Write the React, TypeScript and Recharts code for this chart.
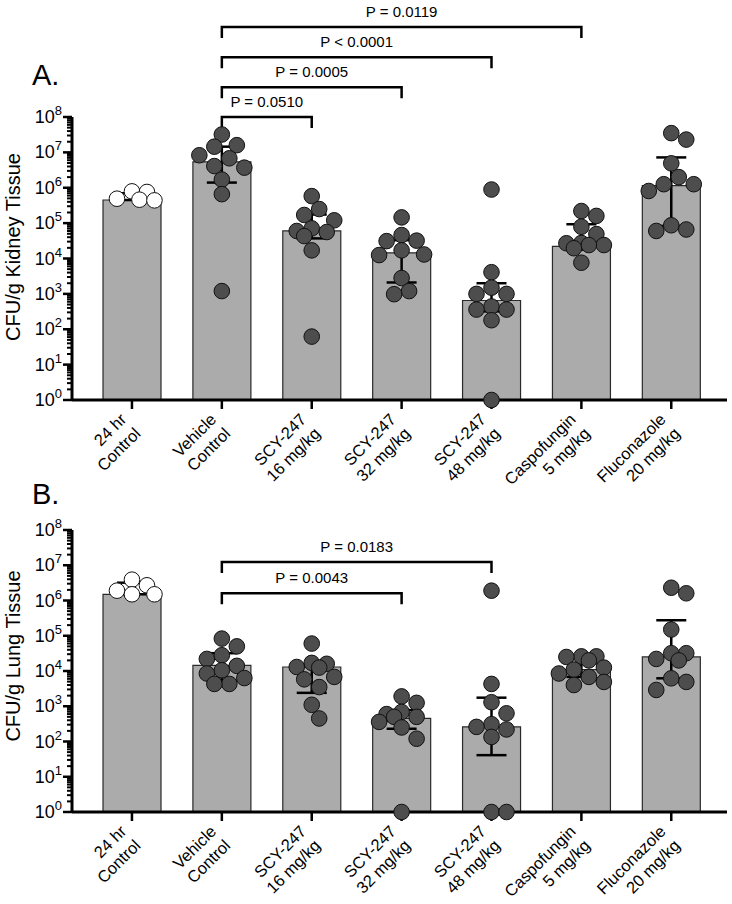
import { ComposedChart, Bar, Scatter, XAxis, YAxis, ErrorBar, ReferenceLine } from 'recharts'

const FONT = '"Liberation Sans", Arial, Helvetica, sans-serif'

const groups = [
  ['24 hr', 'Control'],
  ['Vehicle', 'Control'],
  ['SCY-247', '16 mg/kg'],
  ['SCY-247', '32 mg/kg'],
  ['SCY-247', '48 mg/kg'],
  ['Caspofungin', '5 mg/kg'],
  ['Fluconazole', '20 mg/kg'],
]

// CFU/g kidney tissue, one list per group (same order as groups)
const kidney24hr = [7.9e5, 7.6e5, 4.9e5, 4.6e5, 4.4e5]
const kidneyVehicle = [3.2e7, 1.6e7, 1.45e7, 8.3e6, 6.8e6, 4.1e6, 3.7e6, 1.7e6, 6.6e5, 1.2e3]
const kidneyScy16 = [5.8e5, 2.5e5, 1.7e5, 1.2e5, 7.1e4, 6.0e4, 5.6e4, 4.3e4, 1.7e4, 62]
const kidneyScy32 = [1.45e5, 4.6e4, 3.2e4, 3.1e4, 1.7e4, 1.3e4, 1.25e4, 2.8e3, 1.2e3, 980]
const kidneyScy48 = [8.9e5, 4.1e3, 1.5e3, 1.0e3, 1.0e3, 440, 360, 360, 180, 1]
const kidneyCaspo = [2.2e5, 1.6e5, 7.9e4, 4.9e4, 2.75e4, 2.7e4, 2.4e4, 2.4e4, 1.95e4, 7.6e3]
const kidneyFluco = [3.5e7, 2.3e7, 4.9e6, 2.0e6, 1.26e6, 1.26e6, 8.1e5, 8.7e4, 6.6e4, 6.0e4]
const kidneyMedian = [4.5e5, 5.4e6, 6.0e4, 1.45e4, 650, 2.2e4, 1.15e6]
const kidneyQ1 = [4.5e5, 1.4e6, 3.7e4, 2.1e3, 320, 2.3e4, 8.3e4]
const kidneyQ3 = [7.0e5, 1.45e7, 1.75e5, 3.3e4, 2.0e3, 9.3e4, 7.2e6]

// CFU/g lung tissue
const lung24hr = [3.9e6, 2.7e6, 1.9e6, 1.5e6, 1.5e6]
const lungVehicle = [8.3e4, 5.0e4, 2.8e4, 2.2e4, 1.4e4, 1.05e4, 8.5e3, 6.3e3, 4.3e3, 4.3e3]
const lungScy16 = [6.0e4, 1.7e4, 1.6e4, 1.3e4, 1.25e4, 6.8e3, 5.8e3, 3.5e3, 1.1e3, 450]
const lungScy32 = [1.9e3, 1.25e3, 690, 600, 500, 500, 360, 250, 120, 1]
const lungScy48 = [1.9e6, 4.3e3, 1.3e3, 630, 310, 260, 220, 135, 1, 1]
const lungCaspo = [2.6e4, 2.6e4, 2.5e4, 2.0e4, 1.25e4, 1.1e4, 8.5e3, 6.8e3, 4.9e3, 4.0e3]
const lungFluco = [2.3e6, 1.6e6, 1.5e5, 3.2e4, 3.2e4, 2.2e4, 2.0e4, 6.2e3, 4.9e3, 2.9e3]
const lungMedian = [1.5e6, 1.45e4, 1.3e4, 450, 260, 1.1e4, 2.5e4]
const lungQ1 = [1.5e6, 5.2e3, 2.4e3, 230, 41, 6.8e3, 6.2e3]
const lungQ3 = [3.2e6, 3.2e4, 1.45e4, 780, 1.75e3, 2.25e4, 2.75e5]

// comparison brackets: group indexes, height on the CFU scale, p value
const kidneyBrackets = [
  { from: 1, to: 2, level: 1e8, text: 'P = 0.0510' },
  { from: 1, to: 3, level: 6.9e8, text: 'P = 0.0005' },
  { from: 1, to: 4, level: 4.9e9, text: 'P < 0.0001' },
  { from: 1, to: 5, level: 3.5e10, text: 'P = 0.0119' },
]
const lungBrackets = [
  { from: 1, to: 3, level: 1.6e6, text: 'P = 0.0043' },
  { from: 1, to: 4, level: 1.23e7, text: 'P = 0.0183' },
]

const majors = new Set([1, 10, 100, 1e3, 1e4, 1e5, 1e6, 1e7, 1e8])
const yTicks: number[] = []
for (let k = 0; k < 8; k++) for (let m = 1; m < 10; m++) yTicks.push(m * 10 ** k)
yTicks.push(1e8)

const X_DOMAIN = [-0.667, 6.62]
const PLOT_W = 655
const UNIT_PX = PLOT_W / (X_DOMAIN[1] - X_DOMAIN[0])
const R = 7.8

// lay the dots of one group out side by side so they don't pile up
function swarm(values: number[], decadePx: number) {
  const steps = [0, 7.5, -7.5, 15, -15, 22.5, -22.5]
  const placed: { dx: number; py: number }[] = []
  const order = values.map((_, i) => i).sort((a, b) => values[b] - values[a])
  const dxs = new Array(values.length).fill(0)
  for (const i of order) {
    const py = Math.log10(values[i]) * decadePx
    let best = 0
    let bestGap = -1
    for (const dx of steps) {
      const gap = Math.min(Infinity, ...placed.map((p) => Math.hypot(p.dx - dx, p.py - py)))
      if (gap >= 14) {
        best = dx
        break
      }
      if (gap > bestGap) {
        best = dx
        bestGap = gap
      }
    }
    placed.push({ dx: best, py })
    dxs[i] = best / UNIT_PX
  }
  return dxs
}

function YTick({ x, y, payload }: any) {
  const v = payload.value
  const major = majors.has(v)
  return (
    <g>
      <line x1={x - (major ? 9 : 5)} x2={x} y1={y} y2={y} stroke="#000" strokeWidth={major ? 2.5 : 2} />
      {major && (
        <text x={x - 10} y={y + 6} textAnchor="end" fontSize={18} fill="#000">
          10
          <tspan dy={-8} fontSize={13}>
            {Math.round(Math.log10(v))}
          </tspan>
        </text>
      )}
    </g>
  )
}

function XTick({ x, y, payload }: any) {
  const [l1, l2] = groups[payload.value] || ['', '']
  return (
    <g transform={`translate(${x - 1},${y + 13}) rotate(-45)`}>
      <text textAnchor="end" fontSize={16.5} fill="#000">
        <tspan x={0} y={-5}>
          {l1}
        </tspan>
        <tspan x={0} y={15}>
          {l2}
        </tspan>
      </text>
    </g>
  )
}

function Bracket({ x1, y1, x2, y2, text }: any) {
  return (
    <g>
      <path d={`M${x1},${y1 + 11}V${y1}H${x2}V${y2 + 11}`} fill="none" stroke="#000" strokeWidth={2.5} />
      <text x={(x1 + x2) / 2} y={y1 - 10} textAnchor="middle" fontSize={15} fill="#000">
        {text}
      </text>
    </g>
  )
}

interface PanelProps {
  height: number
  top: number
  plotH: number
  sets: number[][]
  median: number[]
  q1: number[]
  q3: number[]
  brackets: { from: number; to: number; level: number; text: string }[]
}

function Panel({ height, top, plotH, sets, median, q1, q3, brackets }: PanelProps) {
  const decadePx = plotH / 8
  const summary = median.map((m, i) => ({ x: i, y: m, err: [m - q1[i], q3[i] - m] }))
  const dots = sets.flatMap((vals, g) => {
    const dxs = swarm(vals, decadePx)
    return vals.map((v, j) => ({ x: g + dxs[j], y: v, group: g }))
  })
  const axisH = height - top - plotH
  // band axis for the bars: same centres as the numeric axis, 90px per group
  const padL = (0 - X_DOMAIN[0]) * UNIT_PX - UNIT_PX / 2
  const padR = (X_DOMAIN[1] - 6) * UNIT_PX - UNIT_PX / 2
  return (
    <ComposedChart width={732} height={height} data={summary} margin={{ top, right: 5, bottom: 0, left: 12 }}>
      <XAxis
        type="number"
        dataKey="x"
        domain={X_DOMAIN}
        ticks={[0, 1, 2, 3, 4, 5, 6]}
        interval={0}
        height={axisH}
        axisLine={{ stroke: '#000', strokeWidth: 3 }}
        tickLine={{ stroke: '#000', strokeWidth: 2.5 }}
        tickSize={9}
        tickMargin={2}
        tick={<XTick />}
      />
      <XAxis xAxisId="band" type="category" dataKey="x" hide padding={{ left: padL, right: padR }} />
      <YAxis
        scale="log"
        type="number"
        dataKey="y"
        domain={[1, 1e8]}
        ticks={yTicks}
        interval={0}
        width={60}
        axisLine={{ stroke: '#000', strokeWidth: 3 }}
        tickLine={false}
        tickSize={0}
        tickMargin={0}
        tick={<YTick />}
      />
      <Bar
        xAxisId="band"
        dataKey="y"
        barSize={58}
        fill="#ababab"
        stroke="#2a2a2a"
        strokeWidth={1.2}
        isAnimationActive={false}
      />
      <Scatter
        data={dots}
        isAnimationActive={false}
        shape={(p: any) => (
          <circle
            cx={p.cx}
            cy={p.cy}
            r={R}
            fill={p.payload.group === 0 ? '#ffffff' : '#4d4d4d'}
            stroke="#111"
            strokeWidth={1}
          />
        )}
      />
      <Scatter data={summary} isAnimationActive={false} shape={() => <g />}>
        <ErrorBar dataKey="err" direction="y" width={15} stroke="#000" strokeWidth={2.5} />
      </Scatter>
      {brackets.map((b) => (
        <ReferenceLine
          key={b.text}
          segment={[
            { x: b.from, y: b.level },
            { x: b.to, y: b.level },
          ]}
          ifOverflow="visible"
          shape={(p: any) => <Bracket {...p} text={b.text} />}
        />
      ))}
    </ComposedChart>
  )
}

export default function App() {
  return (
    <div style={{ position: 'absolute', left: 0, top: 0, width: 732, height: 904, background: '#fff', fontFamily: FONT }}>
      <div style={{ position: 'absolute', left: 0, top: 0 }}>
        <Panel
          height={492}
          top={117}
          plotH={283}
          sets={[kidney24hr, kidneyVehicle, kidneyScy16, kidneyScy32, kidneyScy48, kidneyCaspo, kidneyFluco]}
          median={kidneyMedian}
          q1={kidneyQ1}
          q3={kidneyQ3}
          brackets={kidneyBrackets}
        />
      </div>
      <div style={{ position: 'absolute', left: 0, top: 480 }}>
        <Panel
          height={424}
          top={50}
          plotH={282}
          sets={[lung24hr, lungVehicle, lungScy16, lungScy32, lungScy48, lungCaspo, lungFluco]}
          median={lungMedian}
          q1={lungQ1}
          q3={lungQ3}
          brackets={lungBrackets}
        />
      </div>
      <svg width={732} height={904} style={{ position: 'absolute', left: 0, top: 0, pointerEvents: 'none' }}>
        <text x={32} y={85} fontSize={29} fill="#000">
          A.
        </text>
        <text x={32} y={504} fontSize={29} fill="#000">
          B.
        </text>
        <text transform="translate(20,247) rotate(-90)" textAnchor="middle" fontSize={20} fill="#000">
          CFU/g Kidney Tissue
        </text>
        <text transform="translate(20,656) rotate(-90)" textAnchor="middle" fontSize={20} fill="#000">
          CFU/g Lung Tissue
        </text>
      </svg>
    </div>
  )
}
